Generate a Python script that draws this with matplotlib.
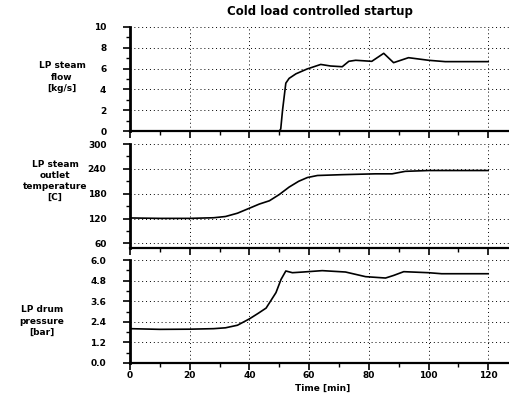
import matplotlib
matplotlib.use("Agg")
import matplotlib.pyplot as plt
from matplotlib.ticker import MultipleLocator

# data
flow_t = [0, 20, 40, 47, 49.7, 50.5, 51.1, 52.2, 53.3, 55.6, 59.3, 63.9, 67.2, 71.1,
          73.3, 75.6, 81, 85, 88.3, 93.3, 100, 105.6, 120]
flow_v = [0, 0, 0, 0, -0.15, 0.2, 2.0, 4.6, 5.06, 5.5, 5.96, 6.4, 6.25, 6.18,
          6.7, 6.8, 6.7, 7.47, 6.57, 7.05, 6.8, 6.67, 6.67]

temp_t = [0, 10, 20, 28, 32, 36, 40, 43.3, 46.7, 50, 53.3, 56.5, 59.4, 62.8,
          71.1, 82.2, 87.8, 92.2, 100, 120]
temp_v = [121.5, 120.5, 120.5, 122, 125, 133, 145, 155, 163, 178, 196, 210, 219, 224,
          226, 228, 228, 234, 236, 236]

press_t = [0, 10, 20, 28, 32, 36, 40, 43, 45.6, 48.9, 50.6, 52.2, 54.4, 58, 64.4,
           72.2, 78.9, 85.6, 88.3, 91.7, 100, 104.4, 120]
press_v = [2.0, 1.96, 1.97, 2.0, 2.05, 2.2, 2.57, 2.9, 3.2, 4.1, 4.87, 5.36, 5.26, 5.3, 5.38,
           5.3, 5.03, 4.95, 5.1, 5.32, 5.26, 5.2, 5.2]

x_ticks = [0, 20, 40, 60, 80, 100, 120]
flow_ticks = [0, 2, 4, 6, 8, 10]
temp_ticks = [60, 120, 180, 240, 300]
press_ticks = [0.0, 1.2, 2.4, 3.6, 4.8, 6.0]

W, H = 510, 396
fig = plt.figure(figsize=(W / 100, H / 100), dpi=100)
fig.patch.set_facecolor("white")


def px_axes(top, bottom, left=130, right=510):
    return fig.add_axes([left / W, 1 - bottom / H, (right - left) / W, (bottom - top) / H])


panels = [
    (px_axes(27, 131), flow_t, flow_v, (0, 10), flow_ticks, 1, "{:.0f}",
     "LP steam\nflow\n[kg/s]", (62, 77)),
    (px_axes(144, 248), temp_t, temp_v, (49, 300), temp_ticks, 30, "{:.0f}",
     "LP steam\noutlet\ntemperature\n[C]", (55, 181)),
    (px_axes(260, 363), press_t, press_v, (0, 6.0), press_ticks, 0.6, "{:.1f}",
     "LP drum\npressure\n[bar]", (42, 321)),
]

for i, (ax, t, v, ylim, yt, yminor, fmt, label, lpos) in enumerate(panels):
    ax.plot(t, v, color="black", lw=1.2)
    ax.set_xlim(0, 127.3)
    ax.set_ylim(*ylim)
    ax.set_xticks(x_ticks)
    ax.xaxis.set_minor_locator(MultipleLocator(10))
    ax.set_yticks(yt)
    ax.set_yticklabels([fmt.format(y) for y in yt])
    ax.yaxis.set_minor_locator(MultipleLocator(yminor))
    ax.grid(True, which="major", color="black", linestyle=(0, (1, 3)), lw=0.7)
    for s in ("top", "right"):
        ax.spines[s].set_visible(False)
    ax.spines["left"].set_linewidth(2.0)
    ax.spines["bottom"].set_linewidth(1.6)
    ax.tick_params(which="major", direction="out", length=5, width=1.2,
                   labelsize=6.5, pad=12)
    ax.tick_params(which="minor", direction="out", length=3, width=1.0)
    for lab in ax.get_yticklabels() + ax.get_xticklabels():
        lab.set_fontweight("bold")
    if i < 2:
        ax.tick_params(axis="x", labelbottom=False)
    else:
        ax.tick_params(axis="x", pad=1)
    fig.text(lpos[0] / W, 1 - lpos[1] / H, label, ha="center", va="center",
             fontsize=6.5, fontweight="bold", linespacing=1.3)

fig.text(320 / W, 1 - 12 / H, "Cold load controlled startup", ha="center", va="center",
         fontsize=8.5, fontweight="bold")
fig.text(323 / W, 1 - 388 / H, "Time [min]", ha="center", va="center",
         fontsize=6.5, fontweight="bold")

plt.savefig("out.png", dpi=100, facecolor="white")
plt.close()
